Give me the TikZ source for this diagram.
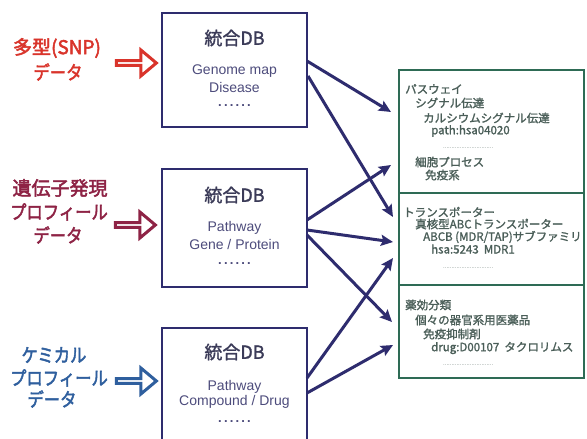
\documentclass[tikz,border=0pt]{standalone}
\usepackage{fontspec}
\setmainfont{Liberation Sans}
\newfontfamily\jp{Noto Sans CJK JP}
\newfontfamily\jpm[FakeBold=1.5]{Noto Sans CJK JP}
\newfontfamily\jpb[FakeBold=2.5]{Noto Sans CJK JP}
\usetikzlibrary{arrows.meta,shapes.arrows,calc}
\definecolor{cred}{HTML}{D9342B}
\definecolor{cmaroon}{HTML}{8E2345}
\definecolor{cblue}{HTML}{2F5F9E}
\definecolor{cnavy}{HTML}{2E2C6E}
\definecolor{cdbtitle}{HTML}{3B3B58}
\definecolor{cdbsub}{HTML}{4D4C7C}
\definecolor{cgreen}{HTML}{2E6B55}
\definecolor{cpanel}{HTML}{4A5E58}
\newcommand{\nk}[1]{\scalebox{0.86}[1]{#1}}
\tikzset{
  dbbox/.style={draw=cnavy,line width=2.5pt,fill=white,inner sep=0pt,outer sep=0pt},
  dbtitle/.style={font=\jpm\fontsize{18}{18}\selectfont,text=cdbtitle,inner sep=0pt},
  dbsub/.style={font=\fontsize{14}{14}\selectfont,text=cdbsub,inner sep=0pt},
  dbdots/.style={font=\fontsize{13}{13}\selectfont\bfseries,text=cdbsub,inner sep=0pt,anchor=base},
  lab/.style={font=\jpb\fontsize{19}{19}\selectfont,inner sep=0pt},
  hollow/.style={single arrow,draw=#1,fill=white,line width=3pt,inner sep=0pt,
    single arrow tip angle=80,minimum height=40pt,minimum width=26pt,
    single arrow head extend=7pt},
  conn/.style={draw=cnavy,line width=3pt,-{Stealth[length=12pt,width=11pt,inset=2pt]}},
  panelbox/.style={draw=cgreen,line width=2.5pt,inner sep=0pt,outer sep=0pt},
  ptext/.style={font=\jpm\fontsize{11.5}{11.5}\selectfont,text=cpanel,inner sep=0pt,anchor=west},
  pdots/.style={font=\fontsize{6}{6}\selectfont,text=cpanel!70,inner sep=0pt,anchor=west}
}
\begin{document}
\begin{tikzpicture}[x=1pt,y=-1pt]
\useasboundingbox (0,0) rectangle (587,439);
\fill[white] (0,0) rectangle (587,439);

% DB boxes
\node[dbbox,minimum width=145pt,minimum height=114pt] (db1) at (234.5,70) {};
\node[dbbox,minimum width=145pt,minimum height=118pt] (db2) at (234.5,228) {};
\node[dbbox,minimum width=145pt,minimum height=120pt] (db3) at (234.5,388) {};

\node[dbtitle] (t1) at (234.5,38) {統合DB};
\node[dbsub] (t1a) at (234.5,71) {Genome map};
\node[dbsub] (t1b) at (234.5,87) {Disease};
\node[dbdots] (t1c) at (234.5,106) {.\,.\,.\,.\,.\,.};

\node[dbtitle] (t2) at (234.5,195) {統合DB};
\node[dbsub] (t2a) at (234.5,228) {Pathway};
\node[dbsub] (t2b) at (234.5,244) {Gene / Protein};
\node[dbdots] (t2c) at (234.5,264) {.\,.\,.\,.\,.\,.};

\node[dbtitle] (t3) at (234.5,352) {統合DB};
\node[dbsub] (t3a) at (234.5,387) {Pathway};
\node[dbsub] (t3b) at (234.5,402) {Compound / Drug};
\node[dbdots] (t3c) at (234.5,422) {.\,.\,.\,.\,.\,.};

% left labels
\node[lab,text=cred] (l1a) at (57,48) {多型(SNP)};
\node[lab,text=cred] (l1b) at (58,72) {\nk{データ}};
\node[lab,text=cmaroon] (l2a) at (60,188) {遺伝子発現};
\node[lab,text=cmaroon] (l2b) at (59,212) {\nk{プロフィール}};
\node[lab,text=cmaroon] (l2c) at (58,235) {\nk{データ}};
\node[lab,text=cblue] (l3a) at (54,355) {\nk{ケミカル}};
\node[lab,text=cblue] (l3b) at (59,378) {\nk{プロフィール}};
\node[lab,text=cblue] (l3c) at (52,399) {\nk{データ}};

% hollow arrows
\node[hollow=cred] (h1) at (135,63) {};
\node[hollow=cmaroon] (h2) at (134,225) {};
\node[hollow=cblue] (h3) at (135,381) {};

% right panel
\node[panelbox,minimum width=185pt,minimum height=308pt] (panel) at (491.5,224) {};
\coordinate (d1l) at ($(panel.north west)+(0,123)$);
\coordinate (d1r) at ($(panel.north east)+(0,123)$);
\coordinate (d2l) at ($(panel.north west)+(0,215)$);
\coordinate (d2r) at ($(panel.north east)+(0,215)$);
\draw[cgreen,line width=2.5pt] (d1l) -- (d1r);
\draw[cgreen,line width=2.5pt] (d2l) -- (d2r);

\node[ptext] (p1) at (405,89) {パスウェイ};
\node[ptext] (p2) at (415,103) {シグナル伝達};
\node[ptext] (p3) at (423,118) {カルシウムシグナル伝達};
\node[ptext] (p4) at (431,131) {path:hsa04020};
\node[pdots] (p5) at (443,148) {..............................};
\node[ptext] (p6) at (415,162) {細胞プロセス};
\node[ptext] (p7) at (425,175) {免疫系};

\node[ptext] (q1) at (403,212) {トランスポーター};
\node[ptext] (q2) at (415,224) {真核型ABCトランスポーター};
\node[ptext] (q3) at (423,237) {ABCB (MDR/TAP)サブファミリ};
\node[ptext] (q4) at (431,249) {hsa:5243\ \ MDR1};
\node[pdots] (q5) at (443,268) {..............................};

\node[ptext] (r1) at (405,305) {薬効分類};
\node[ptext] (r2) at (415,320) {個々の器官系用医薬品};
\node[ptext] (r3) at (423,334) {免疫抑制剤};
\node[ptext] (r4) at (431,348) {drug:D00107\ \ タクロリムス};
\node[pdots] (r5) at (443,365) {..............................};

% connector end points
\coordinate (a1s) at ($(db1.north east)+(0,48)$);
\coordinate (a2s) at ($(db1.north east)+(1,63)$);
\coordinate (b1s) at ($(db2.north east)+(0,51)$);
\coordinate (b2s) at ($(db2.north east)+(0,61)$);
\coordinate (b3s) at ($(db2.north east)+(0,66)$);
\coordinate (c1s) at ($(db3.north east)+(0,50)$);
\coordinate (c2s) at ($(db3.north east)+(0,65)$);
\coordinate (a1e) at ($(panel.north west)+(-8,42)$);
\coordinate (a2e) at ($(panel.north west)+(-6,147)$);
\coordinate (b1e) at ($(panel.north west)+(-8,95)$);
\coordinate (b2e) at ($(panel.north west)+(-6,172)$);
\coordinate (b3e) at ($(panel.north west)+(-7,252)$);
\coordinate (c1e) at ($(panel.north west)+(-6,188)$);
\coordinate (c2e) at ($(panel.north west)+(-6,275)$);

\draw[conn] (a1s) -- (a1e);
\draw[conn] (a2s) -- (a2e);
\draw[conn] (b1s) -- (b1e);
\draw[conn] (b2s) -- (b2e);
\draw[conn] (b3s) -- (b3e);
\draw[conn] (c1s) -- (c1e);
\draw[conn] (c2s) -- (c2e);
\end{tikzpicture}
\end{document}
